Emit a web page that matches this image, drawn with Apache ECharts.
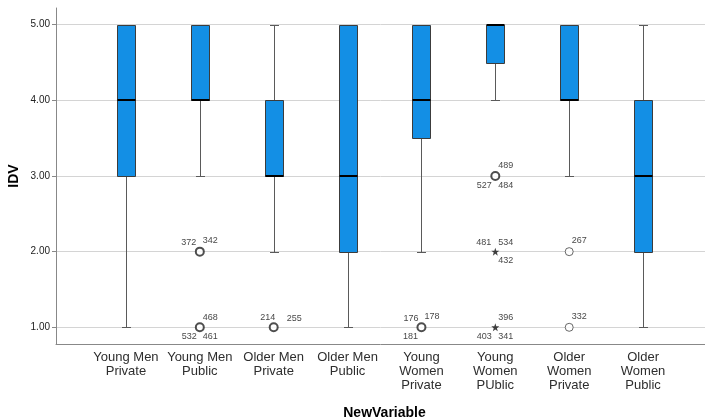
<!DOCTYPE html>
<html>
<head>
<meta charset="utf-8">
<script src="https://cdn.jsdelivr.net/npm/echarts@6/dist/echarts.min.js"></script>
<style>
html,body{margin:0;padding:0;background:#fff;}
#chart{width:705px;height:419px;}
</style>
</head>
<body>
<div id="chart"></div>
<script>
// ---- data ----
const categories = ['Young Men\nPrivate','Young Men\nPublic','Older Men\nPrivate','Older Men\nPublic',
  'Young\nWomen\nPrivate','Young\nWomen\nPUblic','Older\nWomen\nPrivate','Older\nWomen\nPublic'];
const whiskerLow  = [1, 3, 2, 1, 2, 4,   3, 1];
const quartile1   = [3, 4, 3, 2, 3.5, 4.5, 4, 2];
const medians     = [4, 4, 3, 3, 4, 5,   4, 3];
const quartile3   = [5, 5, 4, 5, 5, 5,   5, 4];
const whiskerHigh = [5, 5, 5, 5, 5, 5,   5, 5];
const yTicks = [1, 2, 3, 4, 5];

// outliers: category index, value, kind, case ids
const outlierCat   = [1, 1, 2, 4, 5, 5, 5, 6, 6];
const outlierValue = [2, 1, 1, 1, 3, 2, 1, 2, 1];
const outlierKind  = ['circle','circle','circle','circle','circle','star','star','circle','circle'];
const outlierIds   = [['372','342'], ['468','532','461'], ['214','255'], ['176','178','181'],
  ['489','527','484'], ['481','534','432'], ['396','403','341'], ['267'], ['332']];

// ---- layout (label placement around outlier marks) ----
const labelPlacement = {
  '372':[-11,-9.5], '342':[10.5,-11], '468':[10.5,-10], '532':[-10.5,9], '461':[10.5,9],
  '214':[-6,-10], '255':[20.5,-8.5], '176':[-10.5,-8.5], '178':[10.5,-10.5], '181':[-11,9],
  '489':[10.5,-10.5], '527':[-11,9.5], '484':[10.5,9.5], '481':[-11.5,-9], '534':[10.5,-9],
  '432':[10.5,8.5], '396':[10.5,-9.5], '403':[-11,9], '341':[10.5,9], '267':[10,-11], '332':[10,-10.5]
};

const boxData = categories.map((c, i) => [i, whiskerLow[i], quartile1[i], medians[i], quartile3[i], whiskerHigh[i]]);

const circleData = [], starData = [], labelData = [];
outlierCat.forEach((ci, k) => {
  const item = {value: [ci, outlierValue[k]]};
  const multi = outlierIds[k].length > 1;
  if (outlierKind[k] === 'circle') {
    item.itemStyle = {borderWidth: multi ? 2 : 1, borderColor: multi ? '#222' : '#444'};
    circleData.push(item);
  } else {
    starData.push(item);
  }
  outlierIds[k].forEach(id => {
    labelData.push({value: [ci, outlierValue[k]], name: id,
      label: {offset: labelPlacement[id]}});
  });
});

const STAR = 'path://M0,-10 L2.35,-3.24 L9.51,-3.09 L3.8,1.24 L5.88,8.09 L0,4 L-5.88,8.09 L-3.8,1.24 L-9.51,-3.09 L-2.35,-3.24Z';

function renderBox(params, api) {
  const x = api.value(0);
  const mn = api.value(1), q1 = api.value(2), md = api.value(3), q3 = api.value(4), mx = api.value(5);
  const c = v => api.coord([x, v]);
  const cx = Math.round(c(mn)[0]) + 0.5;
  const yMin = Math.round(c(mn)[1]) + 0.5, yQ1 = Math.round(c(q1)[1]) + 0.5,
        yMd = Math.round(c(md)[1]), yQ3 = Math.round(c(q3)[1]) + 0.5, yMax = Math.round(c(mx)[1]) + 0.5;
  const hw = 9, cap = 4.5;
  const wStyle = {stroke: '#5a5a5a', lineWidth: 1};
  const children = [];
  if (q1 > mn) {
    children.push({type: 'line', shape: {x1: cx, y1: yQ1, x2: cx, y2: yMin}, style: wStyle});
    children.push({type: 'line', shape: {x1: cx - cap, y1: yMin, x2: cx + cap, y2: yMin}, style: wStyle});
  }
  if (mx > q3) {
    children.push({type: 'line', shape: {x1: cx, y1: yQ3, x2: cx, y2: yMax}, style: wStyle});
    children.push({type: 'line', shape: {x1: cx - cap, y1: yMax, x2: cx + cap, y2: yMax}, style: wStyle});
  }
  children.push({type: 'rect', shape: {x: cx - hw, y: yQ3, width: 2 * hw, height: yQ1 - yQ3},
    style: {fill: '#138fe5', stroke: '#3c3c3c', lineWidth: 1}});
  children.push({type: 'line', shape: {x1: cx - hw, y1: yMd, x2: cx + hw, y2: yMd},
    style: {stroke: '#000', lineWidth: 2}});
  return {type: 'group', children: children};
}

const chart = echarts.init(document.getElementById('chart'), null, {renderer: 'canvas'});
const FONT = 'Liberation Sans, Arial, sans-serif';
chart.setOption({
  animation: false,
  backgroundColor: '#fff',
  grid: [
    {left: 56, right: 0, top: 8, bottom: 75, outerBoundsMode: 'none', containLabel: false},
    {left: 56, right: 0, top: 24.7, bottom: 91.7, outerBoundsMode: 'none', containLabel: false},
    {left: 89, right: 25, top: 24.7, bottom: 91.7, outerBoundsMode: 'none', containLabel: false}
  ],
  xAxis: [
    {gridIndex: 0, type: 'value', min: 0, max: 1, axisLine: {show: true, onZero: false, lineStyle: {color: '#888', width: 1}},
      axisTick: {show: false}, axisLabel: {show: false}, splitLine: {show: false},
      name: 'NewVariable', nameLocation: 'middle', nameGap: 62,
      nameTextStyle: {fontFamily: FONT, fontWeight: 'bold', fontSize: 14, color: '#000', padding: [0, 0, 0, 8]}},
    {gridIndex: 1, type: 'value', min: 0, max: 1, show: false},
    {gridIndex: 2, type: 'category', data: categories, boundaryGap: true,
      axisLine: {show: false}, axisTick: {show: false}, splitLine: {show: false},
      axisLabel: {interval: 0, margin: 23, fontFamily: FONT, fontSize: 13, lineHeight: 14, color: '#2e2e2e'}}
  ],
  yAxis: [
    {gridIndex: 0, type: 'value', min: 0.78, max: 5.21, axisLine: {show: true, onZero: false, lineStyle: {color: '#888', width: 1}},
      axisTick: {show: false}, axisLabel: {show: false}, splitLine: {show: false},
      name: 'IDV', nameLocation: 'middle', nameGap: 35, nameRotate: 90,
      nameTextStyle: {fontFamily: FONT, fontWeight: 'bold', fontSize: 14, color: '#000'}},
    {gridIndex: 1, type: 'value', min: yTicks[0], max: yTicks[yTicks.length - 1], interval: 1,
      axisLine: {show: false}, axisTick: {show: true, length: 4, lineStyle: {color: '#888'}},
      axisLabel: {margin: 6, fontFamily: FONT, fontSize: 10, color: '#222', formatter: v => v.toFixed(2)},
      splitLine: {show: true, lineStyle: {color: '#d4d4d4', width: 1}}},
    {gridIndex: 2, type: 'value', min: yTicks[0], max: yTicks[yTicks.length - 1], show: false}
  ],
  series: [
    {type: 'custom', xAxisIndex: 2, yAxisIndex: 2, renderItem: renderBox, data: boxData,
      encode: {x: 0, y: [1, 2, 3, 4, 5]}, clip: false, z: 3},
    {type: 'scatter', xAxisIndex: 2, yAxisIndex: 2, symbol: 'circle', symbolSize: 8, clip: false, z: 4,
      itemStyle: {color: '#fff', borderColor: '#222', borderWidth: 2}, data: circleData},
    {type: 'scatter', xAxisIndex: 2, yAxisIndex: 2, symbol: STAR, symbolSize: 8, clip: false, z: 4,
      itemStyle: {color: '#111'}, data: starData},
    {type: 'scatter', xAxisIndex: 2, yAxisIndex: 2, symbolSize: 1, clip: false, z: 5,
      itemStyle: {color: 'rgba(0,0,0,0)'}, silent: true,
      label: {show: true, position: 'inside', formatter: p => p.name, color: '#111',
        fontFamily: FONT, fontSize: 9, textBorderWidth: 0},
      data: labelData}
  ]
});
</script>
</body>
</html>
